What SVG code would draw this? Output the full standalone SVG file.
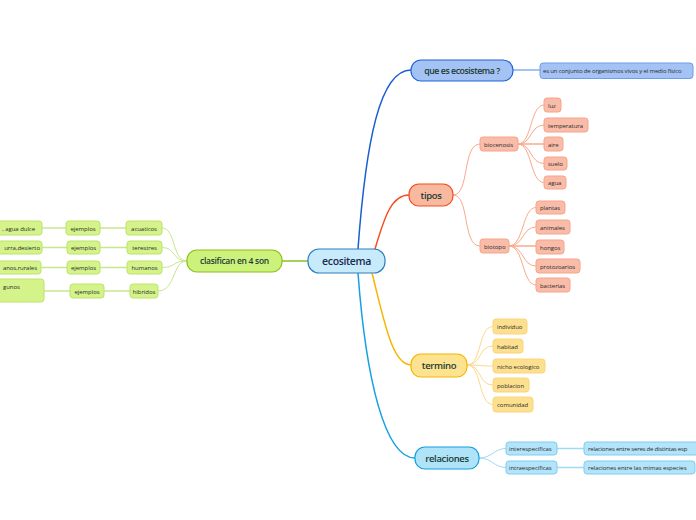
<svg xmlns="http://www.w3.org/2000/svg" width="696" height="520" viewBox="0 0 696 520">
<style>
text{font-family:"Open Sans","Noto Sans","DejaVu Sans",sans-serif;}
.main{font-size:9.5px;fill:#1d3a35;text-anchor:middle;font-weight:600;letter-spacing:-0.35px;}
.leaf{font-size:6px;fill:#2a2a2a;letter-spacing:-0.05px;}
.lc{text-anchor:middle;}
.c{fill:none;}
.g rect{fill:#d4f38b;stroke:#bde466;stroke-width:1;}
.o rect{fill:#f9bca8;stroke:#f7a488;stroke-width:1;}
.y rect{fill:#fde08f;stroke:#fbd57a;stroke-width:1;}
.b rect{fill:#b4e4fa;stroke:#7fcdf0;stroke-width:1;}
.q rect{fill:#a4c2f4;stroke:#6d9eeb;stroke-width:1;}
</style>
<rect width="696" height="520" fill="#ffffff"/>
<g id="connectors" class="c">
  <path d="M358,249 C366,140 380,70 411,70" stroke="#1a5fd0" stroke-width="1.5"/>
  <path d="M375,249 C385,215 392,195 409,195" stroke="#f24e1e" stroke-width="1.5"/>
  <path d="M372,273 C384,320 392,365 411,365" stroke="#f7b500" stroke-width="1.5"/>
  <path d="M358,273 C366,380 385,458 415,458" stroke="#15a0e0" stroke-width="1.5"/>
  <path d="M308,261 L282,261" stroke="#8dbf1a" stroke-width="1.5"/>
  <path d="M513,70 L540,70" stroke="#a4c2f4" stroke-width="2"/>
  <g stroke="#f9a98c" stroke-width="1">
    <path d="M453,195 C470,195 462,144 480,144"/>
    <path d="M453,195 C470,195 462,246 480,246"/>
    <path d="M518,144 C532,144 530,105 544,105"/>
    <path d="M518,144 C532,144 530,125 544,125"/>
    <path d="M518,144 L544,144" stroke-width="1.5"/>
    <path d="M518,144 C532,144 530,163.5 544,163.5"/>
    <path d="M518,144 C532,144 530,182.5 544,182.5"/>
    <path d="M509,246 C524,246 522,207.5 536,207.5"/>
    <path d="M509,246 C524,246 522,227 536,227"/>
    <path d="M509,246 L536,246" stroke-width="1.5"/>
    <path d="M509,246 C524,246 522,266 536,266"/>
    <path d="M509,246 C524,246 522,285 536,285"/>
  </g>
  <g stroke="#fcd98a" stroke-width="1">
    <path d="M467,365 C482,365 478,326.5 493,326.5"/>
    <path d="M467,365 C482,365 478,346 493,346"/>
    <path d="M467,365 C482,365 478,366 493,366"/>
    <path d="M467,365 C482,365 478,385 493,385"/>
    <path d="M467,365 C482,365 478,404.5 493,404.5"/>
  </g>
  <g stroke="#9fd9f5" stroke-width="1">
    <path d="M479,458 C492,458 494,448.5 506,448.5"/>
    <path d="M479,458 C492,458 494,467.5 506,467.5"/>
    <path d="M557,448.5 L584,448.5" stroke-width="1.5"/>
    <path d="M557,467.5 L584,467.5" stroke-width="1.5"/>
  </g>
  <g stroke="#c8e68c" stroke-width="1">
    <path d="M187,261 C172,261 176,228 162,228"/>
    <path d="M187,261 C172,261 176,247.5 162,247.5"/>
    <path d="M187,261 C172,261 176,267.5 162,267.5"/>
    <path d="M187,261 C172,261 176,291 158,291"/>
    <path d="M100,228 L126,228" stroke-width="1.5"/>
    <path d="M100,247.5 L127,247.5" stroke-width="1.5"/>
    <path d="M100,267.5 L127,267.5" stroke-width="1.5"/>
    <path d="M104,291 L130,291" stroke-width="1.5"/>
    <path d="M42,228 L66,228" stroke-width="1.5"/>
    <path d="M42,247.5 L67,247.5" stroke-width="1.5"/>
    <path d="M41,267.5 L67,267.5" stroke-width="1.5"/>
    <path d="M44,291 L70,291" stroke-width="1.5"/>
  </g>
</g>
<g id="ecositema"><rect x="308" y="249" width="77" height="24" rx="11" fill="#c8ebfb" stroke="#2c7fc0" stroke-width="1.2"/><text class="main" x="346.5" y="264.5" style="font-size:10.5px;fill:#1b2a4e">ecositema</text></g>
<g id="que-es"><rect x="411" y="60" width="102" height="21" rx="10" fill="#a4c2f4" stroke="#1f64d6" stroke-width="1.2"/><text class="main" x="462" y="73.5" style="font-size:8.8px;letter-spacing:-0.45px">que es ecosistema ?</text></g>
<g id="que-es-def" class="q"><rect x="540" y="63" width="153" height="15.5" rx="3"/><text class="leaf" x="543" y="73" style="letter-spacing:-0.15px">es un conjunto de organismos vivos y el medio físico</text></g>
<g id="tipos"><rect x="409" y="184" width="44" height="22" rx="10" fill="#f8b9a0" stroke="#f24e1e" stroke-width="1.2"/><text class="main" x="431" y="198.5">tipos</text></g>
<g id="biocenosis" class="o"><rect x="480" y="137" width="38" height="14" rx="3"/><text class="leaf" x="484" y="146.5">biocenosis</text></g>
<g id="luz" class="o"><rect x="544" y="98" width="17" height="14" rx="3"/><text class="leaf" x="548" y="107.5">luz</text></g>
<g id="temperatura" class="o"><rect x="544" y="118" width="44" height="14" rx="3"/><text class="leaf" x="548" y="127.5">temperatura</text></g>
<g id="aire" class="o"><rect x="544" y="137" width="19" height="14" rx="3"/><text class="leaf" x="548" y="146.5">aire</text></g>
<g id="suelo" class="o"><rect x="544" y="157" width="23" height="13" rx="3"/><text class="leaf" x="548" y="166">suelo</text></g>
<g id="agua" class="o"><rect x="544" y="176" width="22" height="13" rx="3"/><text class="leaf" x="548" y="185">agua</text></g>
<g id="biotopo" class="o"><rect x="480" y="239" width="29" height="14" rx="3"/><text class="leaf" x="484" y="248.5">biotopo</text></g>
<g id="plantas" class="o"><rect x="536" y="201" width="29" height="13" rx="3"/><text class="leaf" x="540" y="210">plantas</text></g>
<g id="animales" class="o"><rect x="536" y="220" width="34" height="14" rx="3"/><text class="leaf" x="540" y="229.5">animales</text></g>
<g id="hongos" class="o"><rect x="536" y="240" width="28" height="14" rx="3"/><text class="leaf" x="540" y="249.5">hongos</text></g>
<g id="protozoarios" class="o"><rect x="536" y="259" width="44" height="14" rx="3"/><text class="leaf" x="540" y="268.5">protozoarios</text></g>
<g id="bacterias" class="o"><rect x="536" y="278" width="34" height="14" rx="3"/><text class="leaf" x="540" y="287.5">bacterias</text></g>
<g id="termino"><rect x="411" y="354" width="56" height="23" rx="10" fill="#fde38f" stroke="#f7b500" stroke-width="1.2"/><text class="main" x="439" y="369">termino</text></g>
<g id="individuo" class="y"><rect x="493" y="319" width="34" height="15" rx="3"/><text class="leaf" x="497" y="329">individuo</text></g>
<g id="habitad" class="y"><rect x="493" y="339" width="30" height="14" rx="3"/><text class="leaf" x="497" y="348.5">habitad</text></g>
<g id="nicho" class="y"><rect x="493" y="359" width="52" height="14" rx="3"/><text class="leaf" x="497" y="368.5">nicho ecologico</text></g>
<g id="poblacion" class="y"><rect x="493" y="378" width="36" height="14" rx="3"/><text class="leaf" x="497" y="387.5">poblacion</text></g>
<g id="comunidad" class="y"><rect x="493" y="397" width="40" height="15" rx="3"/><text class="leaf" x="497" y="407">comunidad</text></g>
<g id="relaciones"><rect x="415" y="447" width="64" height="22" rx="10" fill="#aee3f8" stroke="#15a0e0" stroke-width="1.2"/><text class="main" x="447" y="461.5">relaciones</text></g>
<g id="interespecificas" class="b"><rect x="506" y="442" width="51" height="13" rx="3"/><text class="leaf" x="509" y="451">interespecíficas</text></g>
<g id="intraespecificas" class="b"><rect x="506" y="461" width="51" height="13" rx="3"/><text class="leaf" x="509" y="470">intraespecíficas</text></g>
<g id="rel-distintas" class="b"><rect x="584" y="442" width="120" height="13" rx="3"/><text class="leaf" x="588" y="451" style="letter-spacing:-0.2px">relaciones entre seres de distintas esp</text></g>
<g id="rel-mismas" class="b"><rect x="584" y="461" width="111" height="13" rx="3"/><text class="leaf" x="588" y="470">relaciones entre las mimas especies</text></g>
<g id="clasifican"><rect x="187" y="250" width="95" height="22" rx="10" fill="#cdf27c" stroke="#8dbf1a" stroke-width="1.2"/><text class="main" x="234.5" y="264" style="font-size:8.5px;letter-spacing:-0.3px">clasifican en 4 son</text></g>
<g id="acuaticos" class="g"><rect x="126" y="221" width="36" height="14" rx="3"/><text class="leaf lc" x="144" y="230.5">acuaticos</text></g>
<g id="terestres" class="g"><rect x="127" y="241" width="35" height="13" rx="3"/><text class="leaf lc" x="144.5" y="250">terestres</text></g>
<g id="humanos" class="g"><rect x="127" y="261" width="35" height="13" rx="3"/><text class="leaf lc" x="144.5" y="270">humanos</text></g>
<g id="hibridos" class="g"><rect x="130" y="284" width="28" height="14" rx="3"/><text class="leaf lc" x="144" y="293.5">hibridos</text></g>
<g id="ejemplos1" class="g"><rect x="66" y="221" width="34" height="14" rx="3"/><text class="leaf lc" x="83" y="230.5">ejemplos</text></g>
<g id="ejemplos2" class="g"><rect x="67" y="241" width="33" height="13" rx="3"/><text class="leaf lc" x="83.5" y="250">ejemplos</text></g>
<g id="ejemplos3" class="g"><rect x="67" y="261" width="33" height="13" rx="3"/><text class="leaf lc" x="83.5" y="270">ejemplos</text></g>
<g id="ejemplos4" class="g"><rect x="70" y="284" width="34" height="14" rx="3"/><text class="leaf lc" x="87" y="293.5">ejemplos</text></g>
<g id="ej-acuaticos" class="g"><rect x="-60" y="221" width="102" height="14" rx="3"/><text class="leaf" x="35" y="230.5" text-anchor="end">, agua dulce</text></g>
<g id="ej-terestres" class="g"><rect x="-60" y="241" width="102" height="13" rx="3"/><text class="leaf" x="40" y="250" text-anchor="end">urra,desierto</text></g>
<g id="ej-humanos" class="g"><rect x="-60" y="261" width="101" height="13" rx="3"/><text class="leaf" x="37" y="270" text-anchor="end">anos,rurales</text></g>
<g id="ej-hibridos" class="g"><rect x="-60" y="279" width="104" height="23" rx="3"/><text class="leaf" x="3" y="288.5">gunos</text></g>
</svg>
